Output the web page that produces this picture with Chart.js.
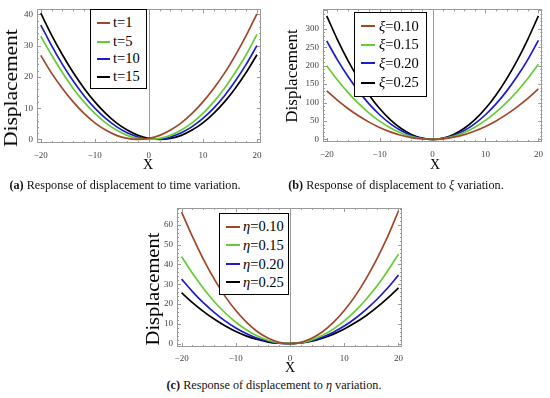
<!DOCTYPE html>
<html>
<head>
<meta charset="utf-8">
<script src="https://cdn.jsdelivr.net/npm/chart.js@4/dist/chart.umd.min.js"></script>
<style>
  html, body { margin: 0; padding: 0; background: #fff; }
  #page { position: relative; width: 550px; height: 398px; overflow: hidden; background: #fff; font-family: "Liberation Serif", "DejaVu Serif", serif; }
  canvas { position: absolute; }
  .ytitle { position: absolute; white-space: nowrap; color: #000; line-height: 1; }
  .xtitle { position: absolute; white-space: nowrap; color: #000; line-height: 1; transform: translate(-50%, -50%); }
  .legend { position: absolute; border: 1.5px solid #000; background: #fff; box-sizing: border-box; }
  .row { position: absolute; white-space: nowrap; font-size: 14.5px; line-height: 1; color: #000; }
  .swatch { position: absolute; height: 2px; }
  .cap { position: absolute; white-space: nowrap; font-size: 12.2px; color: #111; transform: translate(-50%, -50%); }
</style>
</head>
<body>
<div id="page">
  <canvas id="ca" width="275" height="180" style="left:0;top:0"></canvas>
  <canvas id="cb" width="275" height="180" style="left:275px;top:0"></canvas>
  <canvas id="cc" width="290" height="180" style="left:130px;top:195px"></canvas>
</div>
<script>
// ---------------- data ----------------
const xValues = [-20,-18,-16,-14,-12,-10,-8,-6,-4,-2,0,2,4,6,8,10,12,14,16,18,20];
const xTickValues = [-20,-10,0,10,20];

// (a) time variation
const labelsA = ["t=1","t=5","t=10","t=15"];
const t1  = [26.9,21.2,16.3,12.0,8.3,5.3,3.0,1.3,0.33,0,0.33,1.3,3.0,5.3,8.3,12.0,16.3,21.2,26.9,33.2,40.2];
const t5  = [33.0,27.0,21.4,16.3,12.0,8.3,5.3,3.0,1.3,0.33,0,0.33,1.3,3.0,5.3,8.3,12.0,16.4,21.5,27.1,33.6];
const t10 = [36.6,30.0,24.0,18.7,14.0,10.0,6.7,4.1,2.1,0.75,0.08,0.08,0.75,2.1,4.1,6.7,10.0,14.0,18.7,24.0,30.0];
const t15 = [40.4,33.4,27.1,21.4,16.4,12.0,8.35,5.3,3.0,1.3,0.33,0,0.33,1.3,3.0,5.3,8.35,12.0,16.4,21.4,27.1];
const yTicksA = [0,10,20,30,40];

// (b) xi variation
const labelsB = ["0.10","0.15","0.20","0.25"];
const xi10 = [131.7,106.5,83.9,64.0,46.8,32.3,20.4,11.3,4.9,1.1,0.0,1.6,5.9,12.9,22.6,35.0,50.0,67.8,88.2,111.3,137.1];
const xi15 = [199.6,161.5,127.4,97.4,71.4,49.4,31.5,17.5,7.7,1.8,0.0,2.2,8.5,18.8,33.1,51.4,73.8,100.2,130.6,165.1,203.6];
const xi20 = [267.0,216.4,171.0,130.9,96.2,66.8,42.8,24.0,10.7,2.7,0,2.7,10.7,24.0,42.8,66.8,96.2,130.9,171.0,216.4,268.5];
const xi25 = [335.0,271.4,214.4,164.2,120.6,83.8,53.6,30.2,13.4,3.4,0,3.4,13.4,30.2,53.6,83.8,120.6,164.2,214.4,271.4,335.0];
const yTicksB = [0,50,100,150,200,250,300];

// (c) eta variation
const labelsC = ["0.10","0.15","0.20","0.25"];
const eta10 = [66.4,54.0,42.7,32.7,24.0,16.7,10.7,6.0,2.7,0.67,0,0.67,2.7,6.0,10.7,16.7,24.0,32.7,42.7,54.0,67.0];
const eta15 = [43.9,35.5,28.0,21.3,15.6,10.8,6.9,3.8,1.6,0.4,0.0,0.5,1.9,4.2,7.4,11.5,16.4,22.3,29.0,36.7,45.2];
const eta20 = [32.6,26.3,20.7,15.8,11.5,7.9,5.0,2.7,1.2,0.2,0.0,0.4,1.6,3.3,5.8,8.9,12.7,17.2,22.3,28.1,34.6];
const eta25 = [25.7,20.7,16.3,12.4,9.0,6.1,3.8,2.1,0.8,0.2,0.0,0.4,1.3,2.8,4.8,7.4,10.5,14.1,18.3,23.0,28.2];
const yTicksC = [0,10,20,30,40,50,60];

const captions = [
  "<b>(a)</b> Response of displacement to time variation.",
  "<b>(b)</b> Response of displacement to <i>ξ</i> variation.",
  "<b>(c)</b> Response of displacement to <i>η</i> variation."
];

// ---------------- styling ----------------
const COLORS = ["#a0472a", "#66cc33", "#1c1ccc", "#000000"];
const FRAME = "#9a9a9a";
const TICKFONT = { family: "'Liberation Serif', serif", size: 9 };

const framePlugin = {
  id: "frame",
  beforeDatasetsDraw(chart, args, o) {
    const { ctx, chartArea: { left, right, top, bottom }, scales: { x, y } } = chart;
    ctx.save();
    ctx.strokeStyle = FRAME;
    ctx.lineWidth = 1;
    // vertical axis at x = 0
    const x0 = Math.round(x.getPixelForValue(0)) + 0.5;
    ctx.beginPath(); ctx.moveTo(x0, top); ctx.lineTo(x0, bottom); ctx.stroke();
    // frame
    ctx.strokeRect(Math.round(left) + 0.5, Math.round(top) + 0.5, Math.round(right - left) - 1, Math.round(bottom - top) - 1);
    ctx.beginPath();
    // x ticks (bottom & top)
    for (let v = Math.ceil(x.min / o.xMinor) * o.xMinor; v <= x.max; v += o.xMinor) {
      const p = Math.round(x.getPixelForValue(v)) + 0.5;
      const len = (Math.abs(v % o.xMajor) < 1e-9) ? 4 : 2;
      ctx.moveTo(p, bottom); ctx.lineTo(p, bottom - len);
      ctx.moveTo(p, top); ctx.lineTo(p, top + len);
    }
    // y ticks (left & right)
    for (let v = Math.ceil(y.min / o.yMinor) * o.yMinor; v <= y.max; v += o.yMinor) {
      const p = Math.round(y.getPixelForValue(v)) + 0.5;
      const len = (Math.abs(v % o.yMajor) < 1e-9) ? 4 : 2;
      ctx.moveTo(left, p); ctx.lineTo(left + len, p);
      ctx.moveTo(right, p); ctx.lineTo(right - len, p);
    }
    ctx.stroke();
    ctx.restore();
  }
};

const fmt = v => (v < 0 ? "\u2212" + Math.abs(v) : String(v));

function makeChart(id, series, yTicks, cfg) {
  const datasets = series.map((arr, i) => ({
    data: xValues.map((xv, j) => ({ x: xv, y: arr[j] })),
    borderColor: COLORS[i],
    borderWidth: 1.7,
    pointRadius: 0,
    fill: false,
    cubicInterpolationMode: "monotone"
  }));
  return new Chart(document.getElementById(id), {
    type: "line",
    data: { datasets },
    plugins: [framePlugin],
    options: {
      responsive: false,
      animation: false,
      devicePixelRatio: 1,
      layout: { padding: { top: cfg.padTop, right: cfg.padRight, left: 0, bottom: 0 } },
      plugins: { legend: { display: false }, tooltip: { enabled: false }, frame: cfg.frame },
      scales: {
        x: {
          type: "linear", min: cfg.xMin, max: cfg.xMax,
          grid: { display: false, drawTicks: false },
          border: { display: false },
          afterBuildTicks: s => { s.ticks = xTickValues.map(v => ({ value: v })); },
          afterFit: s => { s.height = cfg.xAxisH; },
          ticks: { font: TICKFONT, color: "#444", padding: cfg.xPad, maxRotation: 0, callback: fmt }
        },
        y: {
          type: "linear", min: cfg.yMin, max: cfg.yMax,
          grid: { display: false, drawTicks: false },
          border: { display: false },
          afterBuildTicks: s => { s.ticks = yTicks.map(v => ({ value: v })); },
          afterFit: s => { s.width = cfg.yAxisW; },
          ticks: { font: TICKFONT, color: "#444", padding: cfg.yPad, callback: fmt }
        }
      }
    }
  });
}

makeChart("ca", [t1, t5, t10, t15], yTicksA, {
  xMin: -20.7, xMax: 20.75, yMin: -1.15, yMax: 41.6,
  padTop: 5, padRight: 14, yAxisW: 37, xAxisH: 37, xPad: 7, yPad: 4,
  frame: { xMinor: 2, xMajor: 10, yMinor: 2, yMajor: 10 }
});
makeChart("cb", [xi10, xi15, xi20, xi25], yTicksB, {
  xMin: -20.7, xMax: 20.75, yMin: -7.1, yMax: 352.5,
  padTop: 5, padRight: 6, yAxisW: 48, xAxisH: 38, xPad: 7, yPad: 4,
  frame: { xMinor: 2, xMajor: 10, yMinor: 10, yMajor: 50 }
});
makeChart("cc", [eta10, eta15, eta20, eta25], yTicksC, {
  xMin: -20.85, xMax: 20.65, yMin: -1.7, yMax: 68.5,
  padTop: 13, padRight: 18, yAxisW: 47, xAxisH: 28, xPad: 6, yPad: 4,
  frame: { xMinor: 2, xMajor: 10, yMinor: 2, yMajor: 10 }
});

// ---------------- titles, legends, captions ----------------
const page = document.getElementById("page");
function addDiv(cls, html, style) {
  const d = document.createElement("div");
  d.className = cls; d.innerHTML = html;
  Object.assign(d.style, style);
  page.appendChild(d);
  return d;
}
// y titles
function yTitle(cx, cy, size, stretch) {
  addDiv("ytitle", "Displacement", {
    left: cx + "px", top: cy + "px", fontSize: size + "px",
    transform: "translate(-50%,-50%) rotate(-90deg) scaleX(" + stretch + ")"
  });
}
yTitle(11, 88, 18, 1.19);
yTitle(291, 76, 17, 1.0);
yTitle(152, 289, 19, 1.08);
// x titles
addDiv("xtitle", "X", { left: "148px", top: "165px", fontSize: "14px" });
addDiv("xtitle", "X", { left: "435px", top: "165px", fontSize: "14px" });
addDiv("xtitle", "X", { left: "290px", top: "368px", fontSize: "14px" });

// legends
function legend(box, rows, lineX, textX, labels) {
  addDiv("legend", "", { left: box[0] + "px", top: box[1] + "px", width: (box[2] - box[0]) + "px", height: (box[3] - box[1]) + "px" });
  labels.forEach((lab, i) => {
    addDiv("swatch", "", { left: lineX[0] + "px", top: (rows[i] - 1) + "px", width: (lineX[1] - lineX[0]) + "px", background: COLORS[i] });
    addDiv("row", lab, { left: textX + "px", top: (rows[i] - 7.5) + "px" });
  });
}
legend([90, 9, 147, 89], [22.7, 41.7, 58.8, 76.5], [97, 110], 113, labelsA);
legend([354, 12, 427, 97], [26, 44.5, 63.3, 82.5], [361, 375], 379, labelsB.map(v => "<i>ξ</i>=" + v));
legend([219, 213, 289, 295], [226.7, 245, 264, 282.3], [226, 240], 243, labelsC.map(v => "<i>η</i>=" + v));

// captions
addDiv("cap", captions[0], { left: "125px", top: "184.5px" });
addDiv("cap", captions[1], { left: "396px", top: "184.5px" });
addDiv("cap", captions[2], { left: "274px", top: "385px" });
</script>
</body>
</html>
